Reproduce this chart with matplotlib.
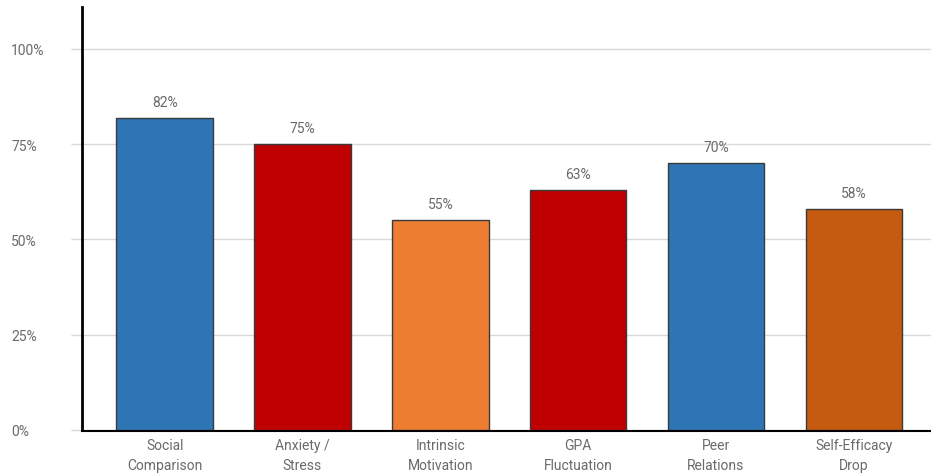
import matplotlib
matplotlib.use("Agg")
import matplotlib.pyplot as plt

categories = ["Social\nComparison", "Anxiety /\nStress", "Intrinsic\nMotivation",
              "GPA\nFluctuation", "Peer\nRelations", "Self-Efficacy\nDrop"]
values = [82, 75, 55, 63, 70, 58]
colors = ["#2E75B6", "#C00000", "#ED7D31", "#C00000", "#2E75B6", "#C55A11"]
yticks = [0, 25, 50, 75, 100]
ytick_labels = ["0%", "25%", "50%", "75%", "100%"]

plt.rcParams['font.family'] = ['Roboto', 'DejaVu Sans']
txtc = "#6a6a6a"
fs = 10

fig = plt.figure(figsize=(9.31, 4.77), dpi=100)
ax = fig.add_axes([82/931, 46/477, (931-82)/931, (431-8)/477])

x = list(range(len(categories)))
ax.bar(x, values, width=0.7, color=colors, edgecolor="#3a3a3a", linewidth=1, zorder=3)
for xi, v in zip(x, values):
    ax.text(xi, v + 4.2, f"{v}%", ha="center", va="center", fontsize=fs,
            color=txtc, zorder=4)

ax.set_xlim(-0.6, 5.56)
ax.set_ylim(0, 111)
ax.set_yticks(yticks)
ax.set_yticklabels(ytick_labels)
ax.set_xticks(x)
ax.set_xticklabels(categories)
ax.tick_params(axis="x", length=0, pad=5, labelsize=fs, labelcolor=txtc)
ax.tick_params(axis="y", length=8, width=1, color="#d9d9d9", pad=43, labelsize=fs,
               labelcolor=txtc)
ax.grid(axis="y", color="#d9d9d9", linewidth=1, zorder=0)
ax.set_axisbelow(True)

for s in ["top", "right"]:
    ax.spines[s].set_visible(False)
ax.spines["left"].set_linewidth(2)
ax.spines["left"].set_color("black")
ax.spines["bottom"].set_linewidth(1.5)
ax.spines["bottom"].set_color("black")
ax.spines["bottom"].set_position(("outward", 1))

fig.canvas.draw()
for lab in ax.get_xticklabels():
    lab.set_linespacing(1.55)
for lab in ax.get_yticklabels():
    lab.set_horizontalalignment("left")

fig.savefig("out.png", dpi=100)
